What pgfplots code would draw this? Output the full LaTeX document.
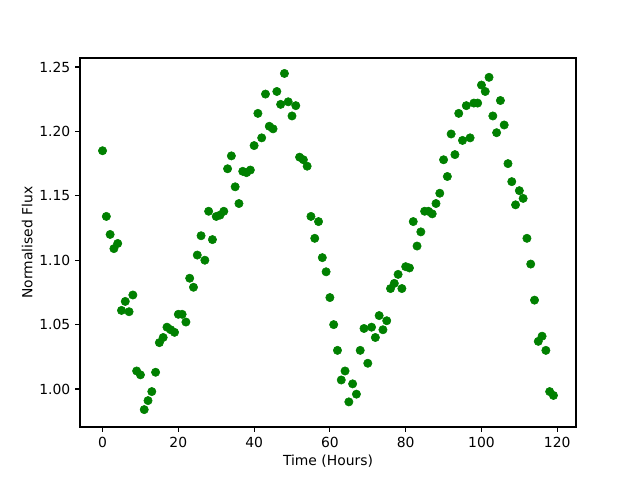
\documentclass[border=0pt]{standalone}
\usepackage{fontspec}
\setmainfont{DejaVu Sans}
\usepackage{pgfplots}
\pgfplotsset{compat=1.18}
\definecolor{mplgreen}{RGB}{0,128,0}
\begin{document}
\begin{tikzpicture}
\path[use as bounding box] (-57.6pt,-38.16pt) rectangle (403.2pt,307.44pt);
\begin{axis}[
  at={(0,0)}, anchor=south west,
  scale only axis, width=357.12pt, height=265.68pt,
  xmin=-5.95, xmax=124.95, ymin=0.9705, ymax=1.2570,
  xtick={0,20,40,60,80,100,120},
  ytick={1.00,1.05,1.10,1.15,1.20,1.25},
  yticklabel style={/pgf/number format/.cd,fixed,fixed zerofill,precision=2},
  /pgf/number format/assume math mode=true,
  tick align=outside, tick pos=left,
  major tick length=3.5pt,
  every tick/.style={black, line width=0.8pt},
  axis line style={line width=0.8pt},
  tick label style={font=\fontsize{10}{12}\selectfont},
  label style={font=\fontsize{10}{12}\selectfont},
  xlabel={Time (Hours)}, ylabel={Normalised Flux},
  xlabel style={yshift=1pt},
  ylabel style={yshift=-2pt},
  clip=false,
]
\addplot[only marks, mark=*, mark size=3pt, mplgreen, mark options={draw=mplgreen, fill=mplgreen}] coordinates {
(0,1.185)(1,1.134)(2,1.120)(3,1.109)(4,1.113)(5,1.061)(6,1.068)(7,1.060)(8,1.073)(9,1.014)
(10,1.011)(11,0.984)(12,0.991)(13,0.998)(14,1.013)(15,1.036)(16,1.040)(17,1.048)(18,1.046)(19,1.044)
(20,1.058)(21,1.058)(22,1.052)(23,1.086)(24,1.079)(25,1.104)(26,1.119)(27,1.100)(28,1.138)(29,1.116)
(30,1.134)(31,1.135)(32,1.138)(33,1.171)(34,1.181)(35,1.157)(36,1.144)(37,1.169)(38,1.168)(39,1.170)
(40,1.189)(41,1.214)(42,1.195)(43,1.229)(44,1.204)(45,1.202)(46,1.231)(47,1.221)(48,1.245)(49,1.223)
(50,1.212)(51,1.220)(52,1.180)(53,1.178)(54,1.173)(55,1.134)(56,1.117)(57,1.130)(58,1.102)(59,1.091)
(60,1.071)(61,1.050)(62,1.030)(63,1.007)(64,1.014)(65,0.990)(66,1.004)(67,0.996)(68,1.030)(69,1.047)
(70,1.020)(71,1.048)(72,1.040)(73,1.057)(74,1.046)(75,1.053)(76,1.078)(77,1.082)(78,1.089)(79,1.078)
(80,1.095)(81,1.094)(82,1.130)(83,1.111)(84,1.122)(85,1.138)(86,1.138)(87,1.136)(88,1.144)(89,1.152)
(90,1.178)(91,1.165)(92,1.198)(93,1.182)(94,1.214)(95,1.193)(96,1.220)(97,1.195)(98,1.222)(99,1.222)
(100,1.236)(101,1.231)(102,1.242)(103,1.212)(104,1.199)(105,1.224)(106,1.205)(107,1.175)(108,1.161)(109,1.143)
(110,1.154)(111,1.148)(112,1.117)(113,1.097)(114,1.069)(115,1.037)(116,1.041)(117,1.030)(118,0.998)(119,0.995)
};
\end{axis}
\end{tikzpicture}
\end{document}
